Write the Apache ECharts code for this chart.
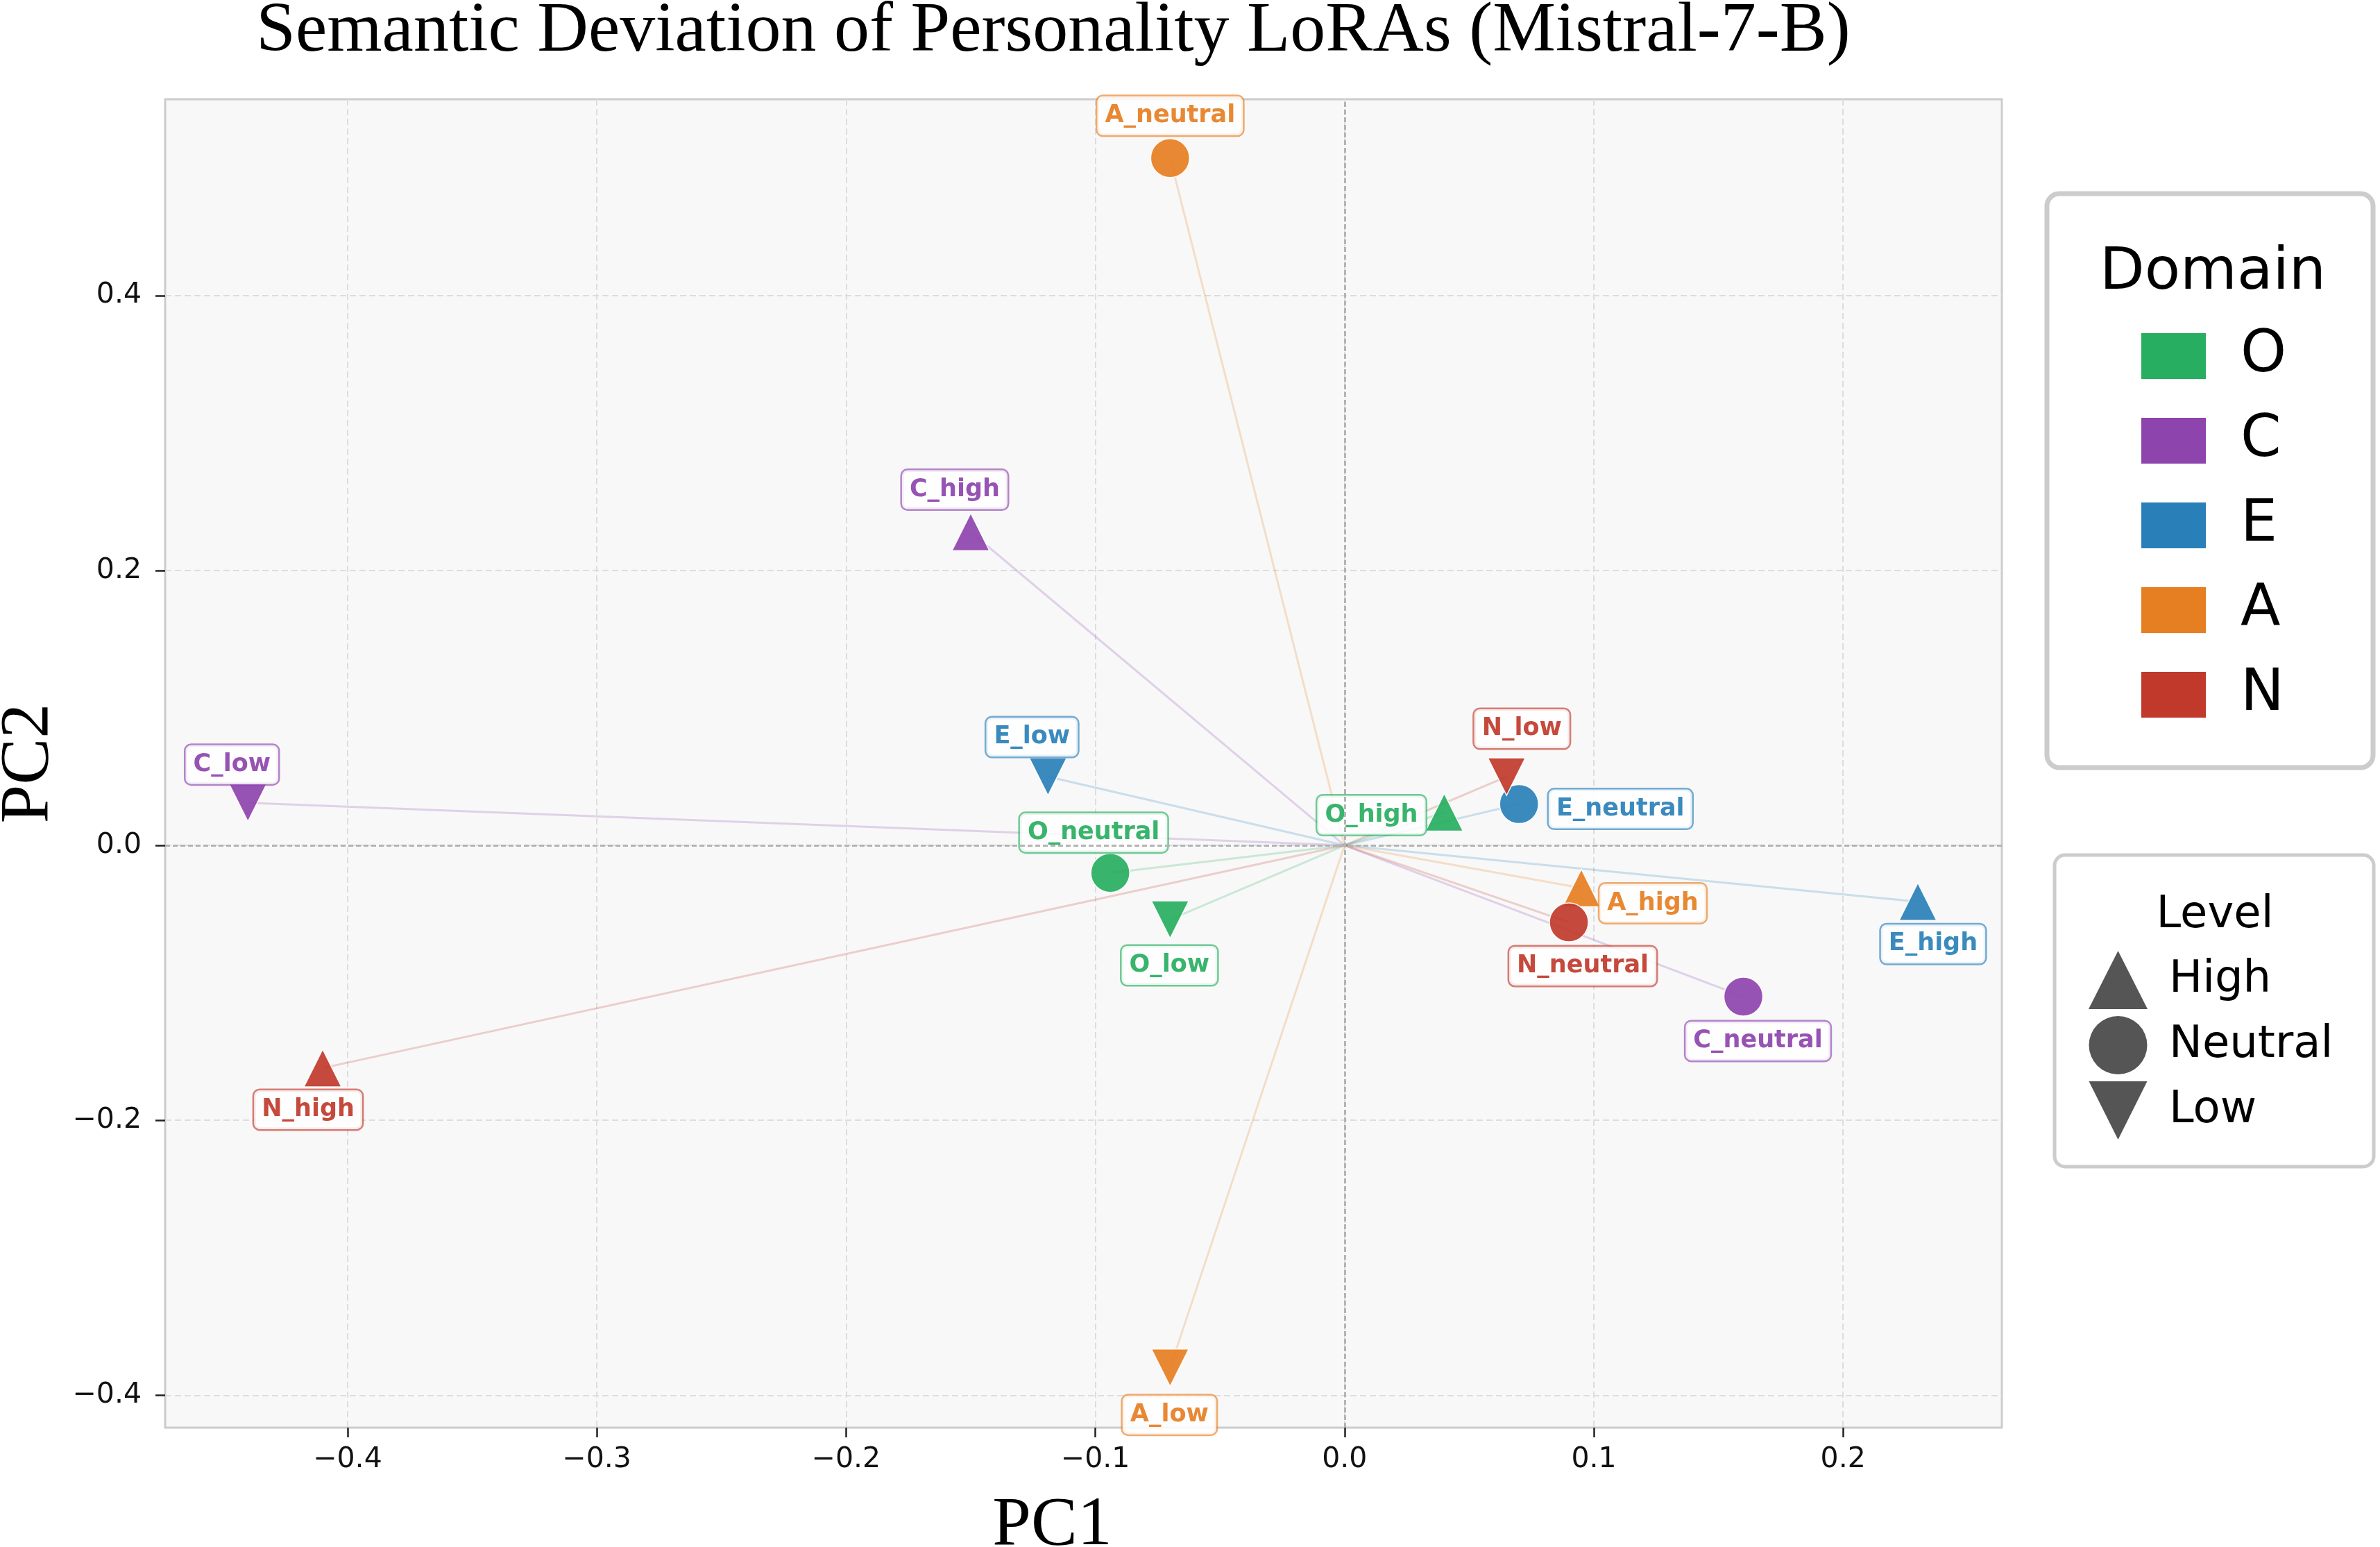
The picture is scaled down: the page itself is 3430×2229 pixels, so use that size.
<!DOCTYPE html>
<html>
<head>
<meta charset="utf-8">
<title>Semantic Deviation of Personality LoRAs (Mistral-7-B)</title>
<script src="https://cdn.jsdelivr.net/npm/echarts@6/dist/echarts.min.js"></script>
<style>
    html, body { margin: 0; padding: 0; background: #fff; }
    #main { width: 3430px; height: 2229px; }
</style>
</head>
<body>
<div id="main"></div>
<script>
    // 数据：每个 LoRA 在 PC1/PC2 上的坐标
    const names = ['O_high', 'O_neutral', 'O_low', 'C_high', 'C_neutral', 'C_low',
        'E_high', 'E_neutral', 'E_low', 'A_high', 'A_neutral', 'A_low',
        'N_high', 'N_neutral', 'N_low'];
    const domainOf = ['O', 'O', 'O', 'C', 'C', 'C', 'E', 'E', 'E', 'A', 'A', 'A', 'N', 'N', 'N'];
    const levelOf = ['High', 'Neutral', 'Low', 'High', 'Neutral', 'Low', 'High', 'Neutral', 'Low',
        'High', 'Neutral', 'Low', 'High', 'Neutral', 'Low'];
    const pc1 = [0.040, -0.094, -0.070, -0.150, 0.160, -0.440, 0.230, 0.070, -0.119,
        0.095, -0.070, -0.070, -0.410, 0.090, 0.065];
    const pc2 = [0.024, -0.020, -0.054, 0.228, -0.110, 0.031, -0.041, 0.030, 0.050,
        -0.031, 0.500, -0.380, -0.162, -0.056, 0.050];

    const domains = ['O', 'C', 'E', 'A', 'N'];
    const levels = ['High', 'Neutral', 'Low'];
    const xTicks = [-0.4, -0.3, -0.2, -0.1, 0.0, 0.1, 0.2];
    const yTicks = [-0.4, -0.2, 0.0, 0.2, 0.4];

    // 样式
    const domainColor = {O: '#27ae60', C: '#8e44ad', E: '#2980b9', A: '#e67e22', N: '#c0392b'};
    const domainBorder = {
        O: 'rgba(39,174,96,0.7)', C: 'rgba(142,68,173,0.7)', E: 'rgba(41,128,185,0.7)',
        A: 'rgba(230,126,34,0.7)', N: 'rgba(192,57,43,0.7)'
    };
    const downTri = 'path://M0,0L2,0L1,2Z';
    const levelSymbol = {High: 'triangle', Neutral: 'circle', Low: downTri};
    const levelSize = {High: 54, Neutral: 56, Low: 54};
    // 标签相对标记中心的偏移（像素）
    const labelShift = {
        O_high: [-105, 4], O_neutral: [-24, -58], O_low: [-1, 66],
        C_high: [-23, -61], C_neutral: [21, 64], C_low: [-23, -55],
        E_high: [22, 61], E_neutral: [146, 7], E_low: [-23, -57],
        A_high: [103, 22], A_neutral: [0, -61], A_low: [-1, 68],
        N_high: [-21, 60], N_neutral: [20, 63], N_low: [22, -69]
    };

    const fmt = v => {
        const r = Math.round(v * 10) / 10;
        return (r < 0 ? '\u2212' : '') + Math.abs(r).toFixed(1);
    };

    let series = [];

    // 零线
    series.push({
        type: 'scatter',
        data: [],
        silent: true,
        z: 1,
        markLine: {
            silent: true,
            symbol: 'none',
            label: {show: false},
            lineStyle: {color: '#b4b4b4', type: [7, 4], width: 3},
            data: [{xAxis: 0}, {yAxis: 0}]
        }
    });

    // 原点到各点的连线
    let rays = [];
    for (let i = 0; i < names.length; i++) {
        rays.push({
            coords: [[0, 0], [pc1[i], pc2[i]]],
            lineStyle: {color: domainColor[domainOf[i]]}
        });
    }
    series.push({
        type: 'lines',
        coordinateSystem: 'cartesian2d',
        silent: true,
        z: 2,
        lineStyle: {width: 3, opacity: 0.22},
        data: rays
    });

    // 各维度散点
    for (const d of domains) {
        let pts = [];
        for (let i = 0; i < names.length; i++) {
            if (domainOf[i] !== d) continue;
            pts.push({
                name: names[i],
                value: [pc1[i], pc2[i]],
                symbol: levelSymbol[levelOf[i]],
                symbolSize: levelSize[levelOf[i]],
                label: {offset: labelShift[names[i]]}
            });
        }
        series.push({
            name: d,
            type: 'scatter',
            z: 3,
            itemStyle: {color: domainColor[d], opacity: 0.92, borderColor: '#ffffff', borderWidth: 1.5},
            label: {
                show: true,
                position: 'inside',
                formatter: '{b}',
                fontFamily: 'DejaVu Sans',
                fontWeight: 'bold',
                fontSize: 35,
                lineHeight: 42,
                color: domainColor[d],
                backgroundColor: 'rgba(255,255,255,0.92)',
                borderColor: domainBorder[d],
                borderWidth: 2.5,
                borderRadius: 8,
                padding: [7, 11]
            },
            data: pts
        });
    }

    // Level 图例用的空系列
    for (const l of levels) {
        series.push({
            name: l,
            type: 'scatter',
            itemStyle: {color: '#555555'},
            data: []
        });
    }

    const chart = echarts.init(document.getElementById('main'));
    chart.setOption({
        backgroundColor: '#ffffff',
        animation: false,
        grid: {
            left: 238, top: 143, width: 2647, height: 1914,
            outerBoundsMode: 'none',
            containLabel: false,
            show: true,
            backgroundColor: '#f8f8f8',
            borderColor: '#cccccc',
            borderWidth: 3
        },
        xAxis: {
            type: 'value',
            min: -0.4732,
            max: 0.2637,
            name: 'PC1',
            nameLocation: 'middle',
            nameGap: 92,
            nameTextStyle: {fontFamily: 'Liberation Serif', fontSize: 100, color: '#000', padding: [0, 90, 0, 0]},
            axisLine: {show: false, onZero: false},
            axisTick: {show: true, length: 14, lineStyle: {color: '#222', width: 2.5}, customValues: xTicks},
            axisLabel: {
                customValues: xTicks, margin: 26, formatter: fmt,
                fontFamily: 'DejaVu Sans', fontSize: 41, color: '#111'
            },
            splitLine: {show: true, lineStyle: {color: '#dddddd', type: [9, 5], width: 2}}
        },
        yAxis: {
            type: 'value',
            min: -0.4236,
            max: 0.5428,
            name: 'PC2',
            nameLocation: 'middle',
            nameGap: 146,
            nameRotate: 90,
            nameTextStyle: {fontFamily: 'Liberation Serif', fontSize: 100, color: '#000'},
            axisLine: {show: false, onZero: false},
            axisTick: {show: true, length: 14, lineStyle: {color: '#222', width: 2.5}, customValues: yTicks},
            axisLabel: {
                customValues: yTicks, margin: 34, formatter: fmt,
                fontFamily: 'DejaVu Sans', fontSize: 41, color: '#111'
            },
            splitLine: {show: true, lineStyle: {color: '#dddddd', type: [9, 5], width: 2}}
        },
        legend: [
            {
                orient: 'vertical',
                left: 3084, top: 471,
                padding: 0,
                itemWidth: 95, itemHeight: 68, itemGap: 38,
                selectedMode: false,
                textStyle: {fontFamily: 'DejaVu Sans', fontSize: 84, color: '#000', padding: [0, 0, 0, 44]},
                data: domains.map(d => ({name: d, icon: 'rect', itemStyle: {opacity: 1}}))
            },
            {
                orient: 'vertical',
                left: 3010, top: 1370,
                padding: 0,
                itemWidth: 85, itemHeight: 84, itemGap: 10,
                selectedMode: false,
                textStyle: {fontFamily: 'DejaVu Sans', fontSize: 64, color: '#000', padding: [0, 0, 0, 26]},
                data: levels.map(l => ({name: l, icon: levelSymbol[l], itemStyle: {opacity: 1, color: '#555555'}}))
            }
        ],
        graphic: [
            {
                type: 'text', x: 1518, y: 46, z: 10,
                style: {
                    text: 'Semantic Deviation of Personality LoRAs (Mistral-7-B)',
                    font: '102px "Liberation Serif"', fill: '#000',
                    textAlign: 'center', textVerticalAlign: 'middle'
                }
            },
            {
                type: 'rect', z: 0,
                shape: {x: 2950, y: 279, width: 470, height: 827, r: 18},
                style: {fill: '#ffffff', stroke: '#cccccc', lineWidth: 7}
            },
            {
                type: 'text', x: 3189, y: 394, z: 10,
                style: {text: 'Domain', font: '84px "DejaVu Sans"', fill: '#000', textAlign: 'center', textVerticalAlign: 'middle'}
            },
            {
                type: 'rect', z: 0,
                shape: {x: 2961, y: 1232, width: 460, height: 449, r: 15},
                style: {fill: '#ffffff', stroke: '#cccccc', lineWidth: 5}
            },
            {
                type: 'text', x: 3192, y: 1319, z: 10,
                style: {text: 'Level', font: '64px "DejaVu Sans"', fill: '#000', textAlign: 'center', textVerticalAlign: 'middle'}
            }
        ],
        series: series
    });
</script>
</body>
</html>
